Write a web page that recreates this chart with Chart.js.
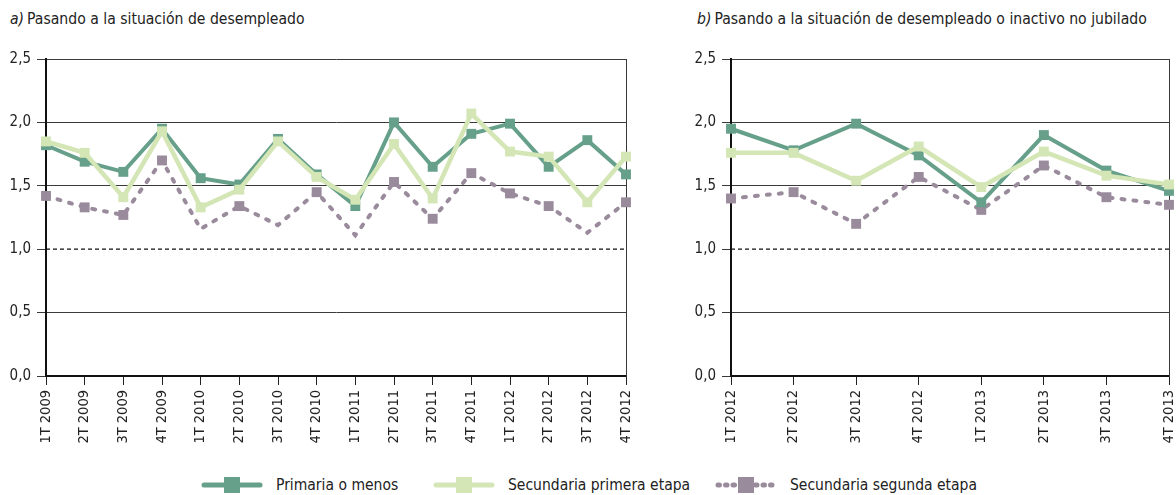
<!DOCTYPE html>
<html>
<head>
<meta charset="utf-8">
<script src="https://cdn.jsdelivr.net/npm/chart.js@4.4.1/dist/chart.umd.min.js"></script>
<style>
  html, body { margin: 0; padding: 0; background: #fff; overflow: hidden; width: 1176px; height: 495px; }
  body { position: relative; font-family: "Liberation Sans Narrow", "DejaVu Sans Condensed", sans-serif; color: #222; }
  .title { position: absolute; top: 10px; font-size: 15.6px; white-space: nowrap; }
  .title i { margin-right: 3px; }
  .box { position: absolute; top: 40px; height: 410px; }
  .item { position: absolute; top: 476px; display: flex; align-items: center; font-size: 15.5px; white-space: nowrap; }
  .item canvas { margin-right: 12px; }
</style>
</head>
<body>
<div class="title" style="left:10px"><i>a)</i>Pasando a la situación de desempleado</div>
<div class="title" style="left:697px"><i>b)</i>Pasando a la situación de desempleado o inactivo no jubilado</div>
<div class="box" style="left:0;width:650px"><canvas id="chartA"></canvas></div>
<div class="box" style="left:690px;width:520px"><canvas id="chartB"></canvas></div>
<div id="legend"></div>
<script>
const seriesNames = ['Primaria o menos', 'Secundaria primera etapa', 'Secundaria segunda etapa'];

const labelsA = ['1T 2009', '2T 2009', '3T 2009', '4T 2009', '1T 2010', '2T 2010', '3T 2010', '4T 2010',
  '1T 2011', '2T 2011', '3T 2011', '4T 2011', '1T 2012', '2T 2012', '3T 2012', '4T 2012'];
const primariaA = [1.82, 1.69, 1.61, 1.95, 1.56, 1.51, 1.87, 1.59, 1.34, 2.00, 1.65, 1.91, 1.99, 1.65, 1.86, 1.59];
const secPrimeraA = [1.85, 1.76, 1.41, 1.93, 1.33, 1.47, 1.85, 1.57, 1.39, 1.83, 1.40, 2.07, 1.77, 1.73, 1.37, 1.73];
const secSegundaA = [1.42, 1.33, 1.27, 1.70, 1.16, 1.34, 1.19, 1.45, 1.11, 1.53, 1.24, 1.60, 1.44, 1.34, 1.13, 1.37];
// in the original some markers of the third series are missing
const segundaMarkA = [1, 1, 1, 1, 0, 1, 0, 1, 0, 1, 1, 1, 1, 1, 0, 1];
const refA = [1, 1, 1, 1, 1, 1, 1, 1, 1, 1, 1, 1, 1, 1, 1, 1];

const labelsB = ['1T 2012', '2T 2012', '3T 2012', '4T 2012', '1T 2013', '2T 2013', '3T 2013', '4T 2013'];
const primariaB = [1.95, 1.78, 1.99, 1.74, 1.37, 1.90, 1.62, 1.46];
const secPrimeraB = [1.76, 1.76, 1.54, 1.81, 1.49, 1.77, 1.58, 1.51];
const secSegundaB = [1.40, 1.45, 1.20, 1.57, 1.31, 1.66, 1.41, 1.35];
const refB = [1, 1, 1, 1, 1, 1, 1, 1];

const yTicks = [0, 0.5, 1, 1.5, 2, 2.5];

const colors = ['#66a08a', '#d4e6b5', '#9a8b9c'];
const FONT = "'Liberation Sans Narrow', 'DejaVu Sans Condensed', sans-serif";

function buildDatasets(primaria, primera, segunda, ref, segundaMarks) {
  return [
    {
      label: seriesNames[0], data: primaria, order: 1,
      borderColor: colors[0], backgroundColor: colors[0], borderWidth: 4,
      pointStyle: 'rect', pointRadius: 7, pointBorderWidth: 0, tension: 0
    },
    {
      label: seriesNames[1], data: primera, order: 0,
      borderColor: colors[1], backgroundColor: colors[1], borderWidth: 4.5,
      pointStyle: 'rect', pointRadius: 7, pointBorderWidth: 0, tension: 0
    },
    {
      label: seriesNames[2], data: segunda, order: 2,
      borderColor: colors[2], backgroundColor: colors[2], borderWidth: 4,
      borderDash: [3, 9], borderCapStyle: 'round',
      pointStyle: 'rect', pointBorderWidth: 0, tension: 0,
      pointRadius: segundaMarks ? segundaMarks.map(m => m ? 7 : 0) : 7
    },
    {
      label: 'ref', data: ref, order: 3,
      borderColor: '#111', borderWidth: 1.3, borderDash: [4, 3],
      pointRadius: 0, tension: 0
    }
  ];
}

function buildChart(id, labels, datasets, yWidth, padRight) {
  return new Chart(document.getElementById(id), {
    type: 'line',
    data: { labels, datasets },
    options: {
      responsive: true,
      maintainAspectRatio: false,
      animation: false,
      events: [],
      layout: { padding: { top: 19, bottom: 4, left: 0, right: padRight } },
      plugins: { legend: { display: false }, tooltip: { enabled: false } },
      scales: {
        x: {
          offset: false,
          grid: { drawOnChartArea: false, drawTicks: true, tickLength: 9, tickColor: '#222', tickWidth: 1 },
          border: { display: true, color: '#111', width: 2 },
          ticks: { color: '#222', maxRotation: 90, minRotation: 90, padding: 5, autoSkip: false,
            font: { family: FONT, size: 14.5 } },
          afterFit: s => { s.height = 70; }
        },
        y: {
          min: 0, max: 2.5,
          afterBuildTicks: s => { s.ticks = yTicks.map(v => ({ value: v })); },
          grid: {
            color: c => c.tick && c.tick.value === 1 ? 'rgba(0,0,0,0)' : '#3a3a3a',
            lineWidth: 1, tickLength: 9, tickColor: '#3a3a3a'
          },
          border: { display: true, color: '#111', width: 2 },
          ticks: { color: '#222', padding: 6, font: { family: FONT, size: 15 },
            callback: v => v.toFixed(1).replace('.', ',') },
          afterFit: s => { s.width = yWidth; }
        },
        yRight: {
          position: 'right', min: 0, max: 2.5,
          grid: { display: false },
          ticks: { display: false },
          border: { display: true, color: '#3a3a3a', width: 1 },
          afterFit: s => { s.width = 0; }
        }
      }
    }
  });
}

buildChart('chartA', labelsA, buildDatasets(primariaA, secPrimeraA, secSegundaA, refA, segundaMarkA), 46, 24);
buildChart('chartB', labelsB, buildDatasets(primariaB, secPrimeraB, secSegundaB, refB), 41, 41);

// legend (HTML, with small drawn samples)
const legendLeft = [200, 432, 714];
seriesNames.forEach((name, i) => {
  const item = document.createElement('div');
  item.className = 'item';
  item.style.left = legendLeft[i] + 'px';
  const cv = document.createElement('canvas');
  cv.width = 64; cv.height = 18;
  const g = cv.getContext('2d');
  g.strokeStyle = colors[i];
  g.fillStyle = colors[i];
  g.lineCap = 'round';
  g.lineWidth = 5;
  if (i === 2) g.setLineDash([1.5, 6]);
  g.beginPath(); g.moveTo(4, 9); g.lineTo(60, 9); g.stroke();
  g.fillRect(24, 1, 16, 16);
  item.appendChild(cv);
  const span = document.createElement('span');
  span.textContent = name;
  item.appendChild(span);
  document.body.appendChild(item);
});
</script>
</body>
</html>
